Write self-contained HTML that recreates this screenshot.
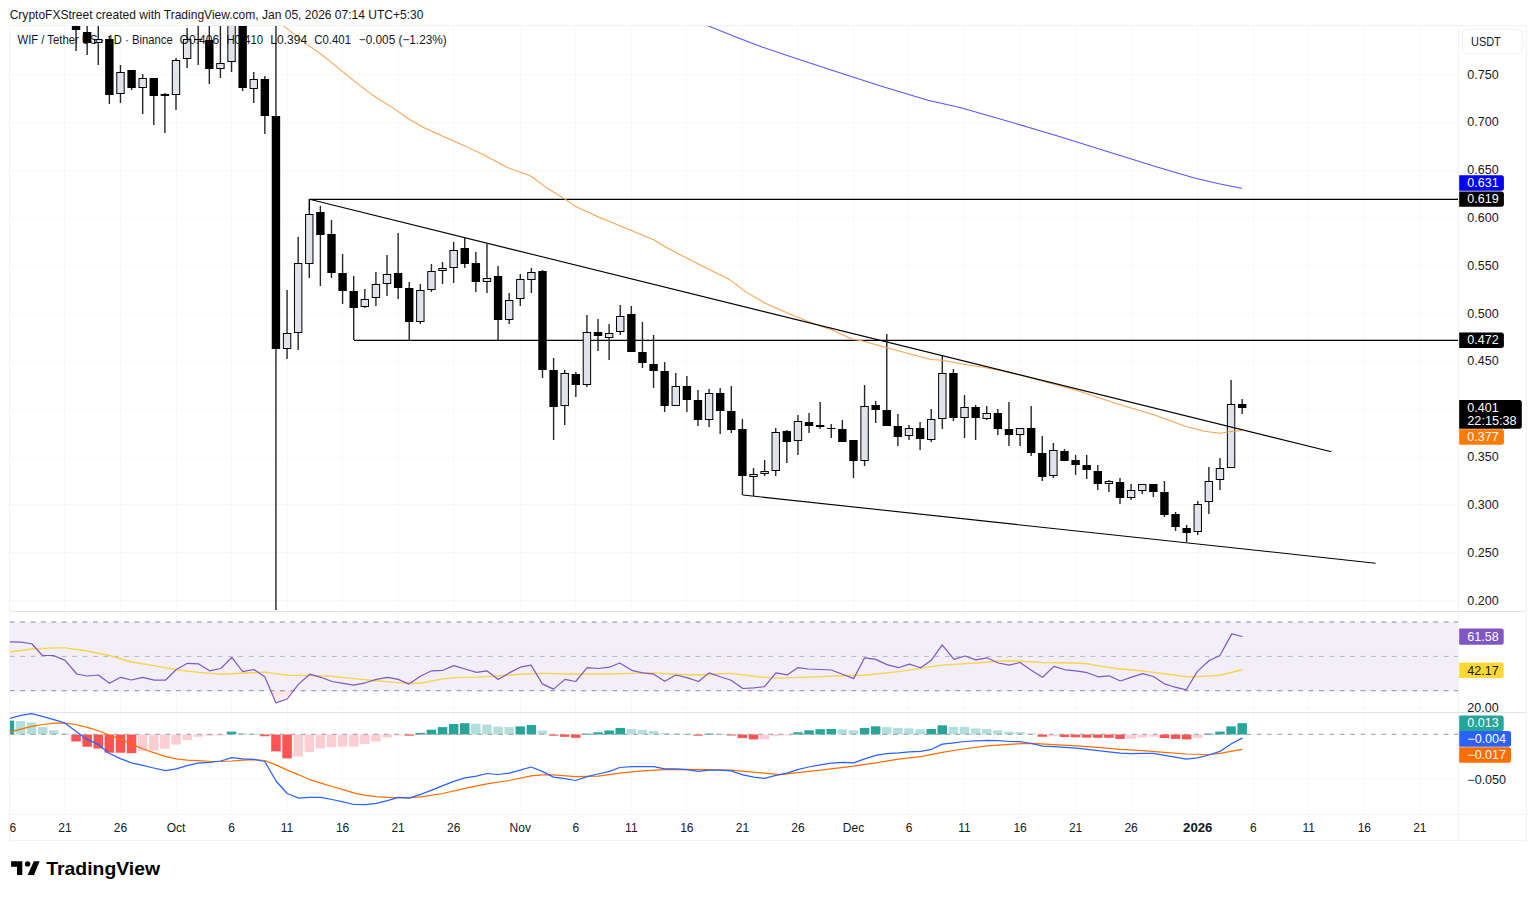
<!DOCTYPE html><html><head><meta charset="utf-8"><style>html,body{margin:0;padding:0;background:#fff;}body{width:1536px;height:897px;overflow:hidden;position:relative;}svg{position:absolute;left:0;top:0;}text{font-family:"Liberation Sans",sans-serif;}</style></head><body>
<svg width="1536" height="897" viewBox="0 0 1536 897">
<defs><clipPath id="cm"><rect x="10" y="26" width="1448" height="585"/></clipPath><clipPath id="cr"><rect x="10" y="612" width="1448" height="100"/></clipPath><clipPath id="cd"><rect x="10" y="713" width="1448" height="101"/></clipPath><clipPath id="ct"><rect x="10" y="815" width="1448" height="25"/></clipPath><linearGradient id="osg" x1="0" y1="0" x2="0" y2="1"><stop offset="0" stop-color="#fcd9dc" stop-opacity="0.9"/><stop offset="1" stop-color="#fdeef0" stop-opacity="0.6"/></linearGradient></defs>
<g stroke="#f8f8f9" stroke-width="1" shape-rendering="crispEdges">
<line x1="64.5" y1="26" x2="64.5" y2="814"/>
<line x1="120.5" y1="26" x2="120.5" y2="814"/>
<line x1="176.5" y1="26" x2="176.5" y2="814"/>
<line x1="231.5" y1="26" x2="231.5" y2="814"/>
<line x1="287.5" y1="26" x2="287.5" y2="814"/>
<line x1="342.5" y1="26" x2="342.5" y2="814"/>
<line x1="398.5" y1="26" x2="398.5" y2="814"/>
<line x1="453.5" y1="26" x2="453.5" y2="814"/>
<line x1="520.5" y1="26" x2="520.5" y2="814"/>
<line x1="575.5" y1="26" x2="575.5" y2="814"/>
<line x1="631.5" y1="26" x2="631.5" y2="814"/>
<line x1="686.5" y1="26" x2="686.5" y2="814"/>
<line x1="742.5" y1="26" x2="742.5" y2="814"/>
<line x1="797.5" y1="26" x2="797.5" y2="814"/>
<line x1="853.5" y1="26" x2="853.5" y2="814"/>
<line x1="908.5" y1="26" x2="908.5" y2="814"/>
<line x1="964.5" y1="26" x2="964.5" y2="814"/>
<line x1="1020.5" y1="26" x2="1020.5" y2="814"/>
<line x1="1075.5" y1="26" x2="1075.5" y2="814"/>
<line x1="1131.5" y1="26" x2="1131.5" y2="814"/>
<line x1="1197.5" y1="26" x2="1197.5" y2="814"/>
<line x1="1253.5" y1="26" x2="1253.5" y2="814"/>
<line x1="1308.5" y1="26" x2="1308.5" y2="814"/>
<line x1="1364.5" y1="26" x2="1364.5" y2="814"/>
<line x1="1419.5" y1="26" x2="1419.5" y2="814"/>
<line x1="10" y1="74.5" x2="1458" y2="74.5"/>
<line x1="10" y1="122.5" x2="1458" y2="122.5"/>
<line x1="10" y1="170.5" x2="1458" y2="170.5"/>
<line x1="10" y1="217.5" x2="1458" y2="217.5"/>
<line x1="10" y1="265.5" x2="1458" y2="265.5"/>
<line x1="10" y1="313.5" x2="1458" y2="313.5"/>
<line x1="10" y1="361.5" x2="1458" y2="361.5"/>
<line x1="10" y1="409.5" x2="1458" y2="409.5"/>
<line x1="10" y1="457.5" x2="1458" y2="457.5"/>
<line x1="10" y1="504.5" x2="1458" y2="504.5"/>
<line x1="10" y1="552.5" x2="1458" y2="552.5"/>
<line x1="10" y1="600.5" x2="1458" y2="600.5"/>
<line x1="10" y1="639.5" x2="1458" y2="639.5"/>
<line x1="10" y1="673.5" x2="1458" y2="673.5"/>
<line x1="10" y1="708.5" x2="1458" y2="708.5"/>
<line x1="10" y1="778.5" x2="1458" y2="778.5"/>
</g>
<g stroke="#f2f2f4" stroke-width="1" shape-rendering="crispEdges" fill="none">
<rect x="9.5" y="25.5" width="1517" height="814.5"/>
<line x1="1458.5" y1="26" x2="1458.5" y2="840"/>
</g>
<g stroke="#e0e3eb" stroke-width="1" shape-rendering="crispEdges">
<line x1="10" y1="611.5" x2="1526" y2="611.5"/>
<line x1="10" y1="712.5" x2="1526" y2="712.5"/>
</g>
<g stroke="#f3f3f5" stroke-width="1" shape-rendering="crispEdges">
<line x1="10" y1="814.5" x2="1526" y2="814.5"/>
</g>
<g clip-path="url(#cm)">
<g stroke="#000" stroke-width="1.1" fill="none">
<line x1="309.5" y1="199.4" x2="1458.5" y2="199.4"/>
<line x1="354" y1="340.4" x2="1458.5" y2="340.4"/>
</g>
<g>
<rect x="75.35" y="25" width="1.4" height="26" fill="#262626" shape-rendering="auto"/>
<rect x="71.85" y="26" width="8.4" height="4" fill="#000"/>
<rect x="86.45" y="25" width="1.4" height="30" fill="#262626" shape-rendering="auto"/>
<rect x="82.95" y="32" width="8.4" height="11" fill="#000"/>
<rect x="97.56" y="25" width="1.4" height="40" fill="#262626" shape-rendering="auto"/>
<rect x="94.06" y="39" width="8.4" height="4" fill="#000"/>
<rect x="95.06" y="40" width="6.4" height="2" fill="#e1e3ea"/>
<rect x="108.66" y="36" width="1.4" height="68" fill="#262626" shape-rendering="auto"/>
<rect x="105.16" y="39" width="8.4" height="56" fill="#000"/>
<rect x="119.77" y="65" width="1.4" height="38" fill="#262626" shape-rendering="auto"/>
<rect x="116.27" y="72" width="8.4" height="22" fill="#000"/>
<rect x="117.27" y="73" width="6.4" height="20" fill="#e1e3ea"/>
<rect x="130.88" y="70" width="1.4" height="20" fill="#262626" shape-rendering="auto"/>
<rect x="127.38" y="70" width="8.4" height="18" fill="#000"/>
<rect x="141.98" y="74" width="1.4" height="40" fill="#262626" shape-rendering="auto"/>
<rect x="138.48" y="78" width="8.4" height="10" fill="#000"/>
<rect x="139.48" y="79" width="6.4" height="8" fill="#e1e3ea"/>
<rect x="153.09" y="78" width="1.4" height="47" fill="#262626" shape-rendering="auto"/>
<rect x="149.59" y="78" width="8.4" height="18" fill="#000"/>
<rect x="164.19" y="93" width="1.4" height="40" fill="#262626" shape-rendering="auto"/>
<rect x="160.69" y="94" width="8.4" height="2" fill="#000"/>
<rect x="175.3" y="58" width="1.4" height="52" fill="#262626" shape-rendering="auto"/>
<rect x="171.8" y="60" width="8.4" height="35" fill="#000"/>
<rect x="172.8" y="61" width="6.4" height="33" fill="#e1e3ea"/>
<rect x="186.41" y="28" width="1.4" height="40" fill="#262626" shape-rendering="auto"/>
<rect x="182.91" y="39" width="8.4" height="20" fill="#000"/>
<rect x="183.91" y="40" width="6.4" height="18" fill="#e1e3ea"/>
<rect x="197.51" y="25" width="1.4" height="40" fill="#262626" shape-rendering="auto"/>
<rect x="194.01" y="39" width="8.4" height="1" fill="#000"/>
<rect x="208.62" y="25" width="1.4" height="59" fill="#262626" shape-rendering="auto"/>
<rect x="205.12" y="40" width="8.4" height="29" fill="#000"/>
<rect x="219.72" y="25" width="1.4" height="53" fill="#262626" shape-rendering="auto"/>
<rect x="216.22" y="63" width="8.4" height="6" fill="#000"/>
<rect x="217.22" y="64" width="6.4" height="4" fill="#e1e3ea"/>
<rect x="230.83" y="25" width="1.4" height="47" fill="#262626" shape-rendering="auto"/>
<rect x="227.33" y="25" width="8.4" height="37" fill="#000"/>
<rect x="228.33" y="26" width="6.4" height="35" fill="#e1e3ea"/>
<rect x="241.94" y="25" width="1.4" height="66" fill="#262626" shape-rendering="auto"/>
<rect x="238.44" y="25" width="8.4" height="63" fill="#000"/>
<rect x="253.04" y="72" width="1.4" height="31" fill="#262626" shape-rendering="auto"/>
<rect x="249.54" y="79" width="8.4" height="10" fill="#000"/>
<rect x="250.54" y="80" width="6.4" height="8" fill="#e1e3ea"/>
<rect x="264.15" y="76" width="1.4" height="58" fill="#262626" shape-rendering="auto"/>
<rect x="260.65" y="79" width="8.4" height="37" fill="#000"/>
<rect x="275.25" y="25" width="1.4" height="585" fill="#262626" shape-rendering="auto"/>
<rect x="271.75" y="116" width="8.4" height="233" fill="#000"/>
<rect x="286.36" y="290" width="1.4" height="69" fill="#262626" shape-rendering="auto"/>
<rect x="282.86" y="333" width="8.4" height="16" fill="#000"/>
<rect x="283.86" y="334" width="6.4" height="14" fill="#e1e3ea"/>
<rect x="297.47" y="237" width="1.4" height="113" fill="#262626" shape-rendering="auto"/>
<rect x="293.97" y="263" width="8.4" height="70" fill="#000"/>
<rect x="294.97" y="264" width="6.4" height="68" fill="#e1e3ea"/>
<rect x="308.57" y="199" width="1.4" height="79" fill="#262626" shape-rendering="auto"/>
<rect x="305.07" y="214" width="8.4" height="50" fill="#000"/>
<rect x="306.07" y="215" width="6.4" height="48" fill="#e1e3ea"/>
<rect x="319.68" y="206" width="1.4" height="80" fill="#262626" shape-rendering="auto"/>
<rect x="316.18" y="212" width="8.4" height="23" fill="#000"/>
<rect x="330.78" y="220" width="1.4" height="58" fill="#262626" shape-rendering="auto"/>
<rect x="327.28" y="234" width="8.4" height="39" fill="#000"/>
<rect x="341.89" y="254" width="1.4" height="50" fill="#262626" shape-rendering="auto"/>
<rect x="338.39" y="273" width="8.4" height="18" fill="#000"/>
<rect x="353" y="276" width="1.4" height="64" fill="#262626" shape-rendering="auto"/>
<rect x="349.5" y="291" width="8.4" height="17" fill="#000"/>
<rect x="364.1" y="289" width="1.4" height="19" fill="#262626" shape-rendering="auto"/>
<rect x="360.6" y="299" width="8.4" height="8" fill="#000"/>
<rect x="361.6" y="300" width="6.4" height="6" fill="#e1e3ea"/>
<rect x="375.21" y="272" width="1.4" height="34" fill="#262626" shape-rendering="auto"/>
<rect x="371.71" y="284" width="8.4" height="14" fill="#000"/>
<rect x="372.71" y="285" width="6.4" height="12" fill="#e1e3ea"/>
<rect x="386.31" y="255" width="1.4" height="41" fill="#262626" shape-rendering="auto"/>
<rect x="382.81" y="274" width="8.4" height="10" fill="#000"/>
<rect x="383.81" y="275" width="6.4" height="8" fill="#e1e3ea"/>
<rect x="397.42" y="233" width="1.4" height="66" fill="#262626" shape-rendering="auto"/>
<rect x="393.92" y="273" width="8.4" height="15" fill="#000"/>
<rect x="408.53" y="282" width="1.4" height="58" fill="#262626" shape-rendering="auto"/>
<rect x="405.03" y="288" width="8.4" height="34" fill="#000"/>
<rect x="419.63" y="284" width="1.4" height="40" fill="#262626" shape-rendering="auto"/>
<rect x="416.13" y="290" width="8.4" height="32" fill="#000"/>
<rect x="417.13" y="291" width="6.4" height="30" fill="#e1e3ea"/>
<rect x="430.74" y="264" width="1.4" height="28" fill="#262626" shape-rendering="auto"/>
<rect x="427.24" y="271" width="8.4" height="19" fill="#000"/>
<rect x="428.24" y="272" width="6.4" height="17" fill="#e1e3ea"/>
<rect x="441.84" y="262" width="1.4" height="22" fill="#262626" shape-rendering="auto"/>
<rect x="438.34" y="268" width="8.4" height="3" fill="#000"/>
<rect x="439.34" y="269" width="6.4" height="1" fill="#e1e3ea"/>
<rect x="452.95" y="242" width="1.4" height="41" fill="#262626" shape-rendering="auto"/>
<rect x="449.45" y="250" width="8.4" height="18" fill="#000"/>
<rect x="450.45" y="251" width="6.4" height="16" fill="#e1e3ea"/>
<rect x="464.06" y="238" width="1.4" height="30" fill="#262626" shape-rendering="auto"/>
<rect x="460.56" y="248" width="8.4" height="16" fill="#000"/>
<rect x="475.16" y="252" width="1.4" height="40" fill="#262626" shape-rendering="auto"/>
<rect x="471.66" y="263" width="8.4" height="19" fill="#000"/>
<rect x="486.27" y="244" width="1.4" height="49" fill="#262626" shape-rendering="auto"/>
<rect x="482.77" y="278" width="8.4" height="4" fill="#000"/>
<rect x="483.77" y="279" width="6.4" height="2" fill="#e1e3ea"/>
<rect x="497.37" y="266" width="1.4" height="74" fill="#262626" shape-rendering="auto"/>
<rect x="493.87" y="276" width="8.4" height="44" fill="#000"/>
<rect x="508.48" y="293" width="1.4" height="31" fill="#262626" shape-rendering="auto"/>
<rect x="504.98" y="300" width="8.4" height="20" fill="#000"/>
<rect x="505.98" y="301" width="6.4" height="18" fill="#e1e3ea"/>
<rect x="519.59" y="274" width="1.4" height="32" fill="#262626" shape-rendering="auto"/>
<rect x="516.09" y="279" width="8.4" height="20" fill="#000"/>
<rect x="517.09" y="280" width="6.4" height="18" fill="#e1e3ea"/>
<rect x="530.69" y="268" width="1.4" height="25" fill="#262626" shape-rendering="auto"/>
<rect x="527.19" y="272" width="8.4" height="8" fill="#000"/>
<rect x="528.19" y="273" width="6.4" height="6" fill="#e1e3ea"/>
<rect x="541.8" y="270" width="1.4" height="108" fill="#262626" shape-rendering="auto"/>
<rect x="538.3" y="271" width="8.4" height="99" fill="#000"/>
<rect x="552.9" y="358" width="1.4" height="82" fill="#262626" shape-rendering="auto"/>
<rect x="549.4" y="370" width="8.4" height="37" fill="#000"/>
<rect x="564.01" y="370" width="1.4" height="55" fill="#262626" shape-rendering="auto"/>
<rect x="560.51" y="373" width="8.4" height="33" fill="#000"/>
<rect x="561.51" y="374" width="6.4" height="31" fill="#e1e3ea"/>
<rect x="575.12" y="372" width="1.4" height="25" fill="#262626" shape-rendering="auto"/>
<rect x="571.62" y="374" width="8.4" height="11" fill="#000"/>
<rect x="586.22" y="315" width="1.4" height="72" fill="#262626" shape-rendering="auto"/>
<rect x="582.72" y="332" width="8.4" height="53" fill="#000"/>
<rect x="583.72" y="333" width="6.4" height="51" fill="#e1e3ea"/>
<rect x="597.33" y="319" width="1.4" height="32" fill="#262626" shape-rendering="auto"/>
<rect x="593.83" y="332" width="8.4" height="4" fill="#000"/>
<rect x="608.43" y="324" width="1.4" height="36" fill="#262626" shape-rendering="auto"/>
<rect x="604.93" y="333" width="8.4" height="5" fill="#000"/>
<rect x="605.93" y="334" width="6.4" height="3" fill="#e1e3ea"/>
<rect x="619.54" y="305" width="1.4" height="30" fill="#262626" shape-rendering="auto"/>
<rect x="616.04" y="316" width="8.4" height="16" fill="#000"/>
<rect x="617.04" y="317" width="6.4" height="14" fill="#e1e3ea"/>
<rect x="630.65" y="306" width="1.4" height="46" fill="#262626" shape-rendering="auto"/>
<rect x="627.15" y="314" width="8.4" height="38" fill="#000"/>
<rect x="641.75" y="322" width="1.4" height="46" fill="#262626" shape-rendering="auto"/>
<rect x="638.25" y="352" width="8.4" height="11" fill="#000"/>
<rect x="652.86" y="335" width="1.4" height="53" fill="#262626" shape-rendering="auto"/>
<rect x="649.36" y="364" width="8.4" height="7" fill="#000"/>
<rect x="663.96" y="362" width="1.4" height="50" fill="#262626" shape-rendering="auto"/>
<rect x="660.46" y="371" width="8.4" height="35" fill="#000"/>
<rect x="675.07" y="373" width="1.4" height="33" fill="#262626" shape-rendering="auto"/>
<rect x="671.57" y="386" width="8.4" height="20" fill="#000"/>
<rect x="672.57" y="387" width="6.4" height="18" fill="#e1e3ea"/>
<rect x="686.18" y="376" width="1.4" height="36" fill="#262626" shape-rendering="auto"/>
<rect x="682.68" y="386" width="8.4" height="14" fill="#000"/>
<rect x="697.28" y="390" width="1.4" height="36" fill="#262626" shape-rendering="auto"/>
<rect x="693.78" y="400" width="8.4" height="20" fill="#000"/>
<rect x="708.39" y="389" width="1.4" height="38" fill="#262626" shape-rendering="auto"/>
<rect x="704.89" y="393" width="8.4" height="27" fill="#000"/>
<rect x="705.89" y="394" width="6.4" height="25" fill="#e1e3ea"/>
<rect x="719.49" y="388" width="1.4" height="46" fill="#262626" shape-rendering="auto"/>
<rect x="715.99" y="393" width="8.4" height="18" fill="#000"/>
<rect x="730.6" y="386" width="1.4" height="47" fill="#262626" shape-rendering="auto"/>
<rect x="727.1" y="411" width="8.4" height="19" fill="#000"/>
<rect x="741.71" y="419" width="1.4" height="76" fill="#262626" shape-rendering="auto"/>
<rect x="738.21" y="429" width="8.4" height="47" fill="#000"/>
<rect x="752.81" y="468" width="1.4" height="28" fill="#262626" shape-rendering="auto"/>
<rect x="749.31" y="474" width="8.4" height="3" fill="#000"/>
<rect x="750.31" y="475" width="6.4" height="1" fill="#e1e3ea"/>
<rect x="763.92" y="460" width="1.4" height="16" fill="#262626" shape-rendering="auto"/>
<rect x="760.42" y="471" width="8.4" height="3" fill="#000"/>
<rect x="761.42" y="472" width="6.4" height="1" fill="#e1e3ea"/>
<rect x="775.02" y="428" width="1.4" height="48" fill="#262626" shape-rendering="auto"/>
<rect x="771.52" y="432" width="8.4" height="39" fill="#000"/>
<rect x="772.52" y="433" width="6.4" height="37" fill="#e1e3ea"/>
<rect x="786.13" y="430" width="1.4" height="33" fill="#262626" shape-rendering="auto"/>
<rect x="782.63" y="431" width="8.4" height="11" fill="#000"/>
<rect x="797.24" y="415" width="1.4" height="40" fill="#262626" shape-rendering="auto"/>
<rect x="793.74" y="421" width="8.4" height="20" fill="#000"/>
<rect x="794.74" y="422" width="6.4" height="18" fill="#e1e3ea"/>
<rect x="808.34" y="413" width="1.4" height="20" fill="#262626" shape-rendering="auto"/>
<rect x="804.84" y="422" width="8.4" height="4" fill="#000"/>
<rect x="819.45" y="402" width="1.4" height="27" fill="#262626" shape-rendering="auto"/>
<rect x="815.95" y="425" width="8.4" height="2" fill="#000"/>
<rect x="830.55" y="424" width="1.4" height="14" fill="#262626" shape-rendering="auto"/>
<rect x="827.05" y="428" width="8.4" height="1" fill="#000"/>
<rect x="841.66" y="420" width="1.4" height="22" fill="#262626" shape-rendering="auto"/>
<rect x="838.16" y="429" width="8.4" height="13" fill="#000"/>
<rect x="852.77" y="440" width="1.4" height="38" fill="#262626" shape-rendering="auto"/>
<rect x="849.27" y="440" width="8.4" height="21" fill="#000"/>
<rect x="863.87" y="385" width="1.4" height="81" fill="#262626" shape-rendering="auto"/>
<rect x="860.37" y="406" width="8.4" height="55" fill="#000"/>
<rect x="861.37" y="407" width="6.4" height="53" fill="#e1e3ea"/>
<rect x="874.98" y="401" width="1.4" height="22" fill="#262626" shape-rendering="auto"/>
<rect x="871.48" y="405" width="8.4" height="5" fill="#000"/>
<rect x="886.08" y="334" width="1.4" height="92" fill="#262626" shape-rendering="auto"/>
<rect x="882.58" y="410" width="8.4" height="16" fill="#000"/>
<rect x="897.19" y="414" width="1.4" height="32" fill="#262626" shape-rendering="auto"/>
<rect x="893.69" y="426" width="8.4" height="11" fill="#000"/>
<rect x="908.3" y="425" width="1.4" height="15" fill="#262626" shape-rendering="auto"/>
<rect x="904.8" y="428" width="8.4" height="8" fill="#000"/>
<rect x="905.8" y="429" width="6.4" height="6" fill="#e1e3ea"/>
<rect x="919.4" y="422" width="1.4" height="28" fill="#262626" shape-rendering="auto"/>
<rect x="915.9" y="428" width="8.4" height="11" fill="#000"/>
<rect x="930.51" y="409" width="1.4" height="33" fill="#262626" shape-rendering="auto"/>
<rect x="927.01" y="419" width="8.4" height="21" fill="#000"/>
<rect x="928.01" y="420" width="6.4" height="19" fill="#e1e3ea"/>
<rect x="941.61" y="356" width="1.4" height="73" fill="#262626" shape-rendering="auto"/>
<rect x="938.11" y="373" width="8.4" height="46" fill="#000"/>
<rect x="939.11" y="374" width="6.4" height="44" fill="#e1e3ea"/>
<rect x="952.72" y="369" width="1.4" height="52" fill="#262626" shape-rendering="auto"/>
<rect x="949.22" y="373" width="8.4" height="45" fill="#000"/>
<rect x="963.83" y="395" width="1.4" height="43" fill="#262626" shape-rendering="auto"/>
<rect x="960.33" y="407" width="8.4" height="11" fill="#000"/>
<rect x="961.33" y="408" width="6.4" height="9" fill="#e1e3ea"/>
<rect x="974.93" y="405" width="1.4" height="35" fill="#262626" shape-rendering="auto"/>
<rect x="971.43" y="407" width="8.4" height="11" fill="#000"/>
<rect x="986.04" y="406" width="1.4" height="14" fill="#262626" shape-rendering="auto"/>
<rect x="982.54" y="413" width="8.4" height="6" fill="#000"/>
<rect x="983.54" y="414" width="6.4" height="4" fill="#e1e3ea"/>
<rect x="997.14" y="409" width="1.4" height="26" fill="#262626" shape-rendering="auto"/>
<rect x="993.64" y="413" width="8.4" height="16" fill="#000"/>
<rect x="1008.25" y="402" width="1.4" height="44" fill="#262626" shape-rendering="auto"/>
<rect x="1004.75" y="429" width="8.4" height="6" fill="#000"/>
<rect x="1019.36" y="428" width="1.4" height="18" fill="#262626" shape-rendering="auto"/>
<rect x="1015.86" y="428" width="8.4" height="7" fill="#000"/>
<rect x="1016.86" y="429" width="6.4" height="5" fill="#e1e3ea"/>
<rect x="1030.46" y="406" width="1.4" height="50" fill="#262626" shape-rendering="auto"/>
<rect x="1026.96" y="428" width="8.4" height="25" fill="#000"/>
<rect x="1041.57" y="436" width="1.4" height="45" fill="#262626" shape-rendering="auto"/>
<rect x="1038.07" y="453" width="8.4" height="24" fill="#000"/>
<rect x="1052.67" y="443" width="1.4" height="35" fill="#262626" shape-rendering="auto"/>
<rect x="1049.17" y="450" width="8.4" height="26" fill="#000"/>
<rect x="1050.17" y="451" width="6.4" height="24" fill="#e1e3ea"/>
<rect x="1063.78" y="449" width="1.4" height="12" fill="#262626" shape-rendering="auto"/>
<rect x="1060.28" y="451" width="8.4" height="10" fill="#000"/>
<rect x="1074.89" y="455" width="1.4" height="20" fill="#262626" shape-rendering="auto"/>
<rect x="1071.39" y="460" width="8.4" height="5" fill="#000"/>
<rect x="1085.99" y="455" width="1.4" height="24" fill="#262626" shape-rendering="auto"/>
<rect x="1082.49" y="465" width="8.4" height="5" fill="#000"/>
<rect x="1097.1" y="465" width="1.4" height="25" fill="#262626" shape-rendering="auto"/>
<rect x="1093.6" y="471" width="8.4" height="13" fill="#000"/>
<rect x="1108.2" y="480" width="1.4" height="12" fill="#262626" shape-rendering="auto"/>
<rect x="1104.7" y="481" width="8.4" height="3" fill="#000"/>
<rect x="1105.7" y="482" width="6.4" height="1" fill="#e1e3ea"/>
<rect x="1119.31" y="478" width="1.4" height="26" fill="#262626" shape-rendering="auto"/>
<rect x="1115.81" y="482" width="8.4" height="16" fill="#000"/>
<rect x="1130.42" y="484" width="1.4" height="16" fill="#262626" shape-rendering="auto"/>
<rect x="1126.92" y="490" width="8.4" height="8" fill="#000"/>
<rect x="1127.92" y="491" width="6.4" height="6" fill="#e1e3ea"/>
<rect x="1141.52" y="484" width="1.4" height="10" fill="#262626" shape-rendering="auto"/>
<rect x="1138.02" y="484" width="8.4" height="7" fill="#000"/>
<rect x="1139.02" y="485" width="6.4" height="5" fill="#e1e3ea"/>
<rect x="1152.63" y="484" width="1.4" height="13" fill="#262626" shape-rendering="auto"/>
<rect x="1149.13" y="484" width="8.4" height="8" fill="#000"/>
<rect x="1163.73" y="481" width="1.4" height="36" fill="#262626" shape-rendering="auto"/>
<rect x="1160.23" y="492" width="8.4" height="23" fill="#000"/>
<rect x="1174.84" y="512" width="1.4" height="19" fill="#262626" shape-rendering="auto"/>
<rect x="1171.34" y="514" width="8.4" height="13" fill="#000"/>
<rect x="1185.95" y="525" width="1.4" height="17" fill="#262626" shape-rendering="auto"/>
<rect x="1182.45" y="528" width="8.4" height="5" fill="#000"/>
<rect x="1197.05" y="501" width="1.4" height="34" fill="#262626" shape-rendering="auto"/>
<rect x="1193.55" y="504" width="8.4" height="28" fill="#000"/>
<rect x="1194.55" y="505" width="6.4" height="26" fill="#e1e3ea"/>
<rect x="1208.16" y="467" width="1.4" height="47" fill="#262626" shape-rendering="auto"/>
<rect x="1204.66" y="481" width="8.4" height="21" fill="#000"/>
<rect x="1205.66" y="482" width="6.4" height="19" fill="#e1e3ea"/>
<rect x="1219.26" y="458" width="1.4" height="32" fill="#262626" shape-rendering="auto"/>
<rect x="1215.76" y="468" width="8.4" height="12" fill="#000"/>
<rect x="1216.76" y="469" width="6.4" height="10" fill="#e1e3ea"/>
<rect x="1230.37" y="380" width="1.4" height="88" fill="#262626" shape-rendering="auto"/>
<rect x="1226.87" y="404" width="8.4" height="64" fill="#000"/>
<rect x="1227.87" y="405" width="6.4" height="62" fill="#e1e3ea"/>
<rect x="1241.48" y="399" width="1.4" height="15" fill="#262626" shape-rendering="auto"/>
<rect x="1237.98" y="404" width="8.4" height="4" fill="#000"/>
</g>
<polyline fill="none" stroke="#f9a24f" stroke-width="1.05" stroke-linejoin="round" stroke-linecap="round"  points="283.2,25.7 284,26.2 306.7,44.1 324.6,56.8 342.4,71.3 355.8,82.4 373.6,95.8 391.4,106.9 409.3,119.2 422.6,127 442.7,136.3 465,145.9 485,155.5 507.3,167.5 530.7,176 547.4,188.3 565.3,199.4 575.6,206.6 599.1,217.3 620.5,226.1 653.75,239.8 665.5,247 698.7,264.2 729.9,279.8 745.5,291.6 765.1,303.3 794.4,316 813.9,323.8 833.4,330.6 853,339.4 860.8,340.4 886.9,347.7 930.6,359.4 942.1,360.2 965,364.6 983.4,367.3 1000,370.6 1018.6,374.8 1042,381 1077.2,390.4 1116.2,403.5 1155.3,415.2 1184.6,425.9 1204.1,431.2 1219.8,433.2 1229.5,431.8 1241.3,430.4"/>
<polyline fill="none" stroke="#5557f2" stroke-width="1.05" stroke-linejoin="round" stroke-linecap="round"  points="707.3,25.5 736.5,37.3 762,47 798.4,59.2 845.8,74.7 882.3,86.5 927.9,100.2 960,107.4 1008.8,121.5 1057.7,136.1 1106.5,151.2 1155.3,166.4 1194.4,178.1 1217.8,183.6 1241.6,188.3"/>
<g stroke="#000" stroke-width="1.1" fill="none">
<line x1="309.5" y1="199.3" x2="1331.3" y2="451.8"/>
<line x1="742.7" y1="495" x2="1375.6" y2="563.2"/>
<line x1="309.5" y1="199.3" x2="309.5" y2="210"/>
</g>
</g>
<text x="17.5" y="44.3" font-size="12.2" fill="#131722" textLength="155.2" lengthAdjust="spacingAndGlyphs">WIF / Tether US · 1D · Binance</text>
<text x="179.5" y="44.3" font-size="12.2" fill="#131722" textLength="39.7" lengthAdjust="spacingAndGlyphs">O0.406</text>
<text x="226.4" y="44.3" font-size="12.2" fill="#131722" textLength="36.7" lengthAdjust="spacingAndGlyphs">H0.410</text>
<text x="270.3" y="44.3" font-size="12.2" fill="#131722" textLength="36.8" lengthAdjust="spacingAndGlyphs">L0.394</text>
<text x="314.3" y="44.3" font-size="12.2" fill="#131722" textLength="36.7" lengthAdjust="spacingAndGlyphs">C0.401</text>
<text x="358.8" y="44.3" font-size="12.2" fill="#131722" textLength="87.9" lengthAdjust="spacingAndGlyphs">−0.005 (−1.23%)</text>
<g clip-path="url(#cr)">
<rect x="10" y="622" width="1448.5" height="69" fill="#f2eff9"/>
<path d="M270.8,690.8 L276,702.9 L287.2,699 L293.4,690.8 Z" fill="url(#osg)"/>
<g stroke-width="1" fill="none">
<line x1="9.85" y1="622" x2="1458.5" y2="622" stroke="#8a8d96" stroke-width="1.1" stroke-dasharray="4.8,5.59"/>
<line x1="9.85" y1="656.4" x2="1458.5" y2="656.4" stroke="#b4b6bd" stroke-dasharray="4.8,5.59"/>
<line x1="9.85" y1="690.8" x2="1458.5" y2="690.8" stroke="#8a8d96" stroke-width="1.1" stroke-dasharray="4.8,5.59"/>
</g>
<polyline fill="none" stroke="#fad34f" stroke-width="1.4" stroke-linejoin="round" stroke-linecap="round"  points="9.6,652 31.8,649 53.4,647.9 65.1,647.9 87.2,651 109.4,655.5 131.5,662 154.2,665.6 176.3,669.8 198.4,672.4 220.8,674.2 242.7,673.2 264.8,672.1 287.2,675.3 309.9,675.5 332,676.3 353.6,678.6 376.3,680.7 398.4,682.6 409,683.3 420.7,683.3 442.9,678.9 453.8,677.6 476.5,677.1 498.1,676 520.2,674.2 542.3,673.4 565,674 587.1,674 609.5,674 631.7,673.4 653.8,672.9 675.9,674.2 698.6,675 720.2,673.7 731.1,673.4 753.8,676.3 775.9,678.1 808.6,677.1 842.5,675.8 864.6,675.3 898.5,671.6 920.6,668.2 942.2,665.1 975.8,663 998.2,661.2 1009.2,660.7 1042.5,662.5 1076.1,663 1087.3,663.8 1098.2,665.9 1120.4,669 1136,670.3 1153.7,672.4 1164.6,673.7 1186.3,676.8 1197.2,676.6 1208.9,676 1219.9,675.3 1242,669.8"/>
<polyline fill="none" stroke="#7e57c2" stroke-width="1.2" stroke-linejoin="round" stroke-linecap="round"  points="9.6,641.9 20.8,642.2 31.8,643.75 42.4,655.5 53.4,655.5 65.1,660.4 76.8,674 87.2,676 98.4,675 109.4,683.3 120.6,677.3 131.5,680 142.7,677.3 154.2,680.2 165.4,680.2 176.3,669.5 187.5,663.3 198.4,663.8 209.6,670.8 220.8,668.5 231.8,657.3 242.7,671.6 253.9,669.5 264.8,676.8 276,702.9 287.2,699 298.7,683.9 309.9,674.2 320.8,677.3 332,681.5 343.2,683.3 353.6,685.2 365.4,682.8 376.3,679.4 387.5,677.3 398.3,679.4 409,684.1 420.7,676 431.7,670.8 442.9,670.3 453.8,665.6 465,669 476.5,672.4 486.9,670.8 498.1,679.4 509.3,672.9 520.2,667.2 531.1,665.1 542.3,683.9 553.5,689.1 565,679.4 575.7,681.5 587.1,667.7 598.3,668.5 609.5,667.2 619.7,663 631.7,670.3 642.6,672.9 653.8,674.2 664.7,681.25 675.9,675 686.9,677.6 698.6,681.5 709,672.9 720.2,676.8 731.1,680.2 742.9,688.5 753.8,687.8 764.5,686.7 775.9,672.9 787.1,674.9 797.7,667.7 808.6,669 820.4,669.5 831.3,670 842.5,674.2 853.7,678.6 864.6,657.8 875.8,659.4 886.8,664.6 898.5,667.7 909.4,664.1 920.6,667.7 931.6,659.9 942.2,644.8 954,659.4 964.9,656 975.8,659.9 987,657.8 998.2,663 1009.2,665.1 1020.1,662.5 1031.3,670.3 1042.5,677.3 1054,666.4 1065.2,669.8 1076.1,670.8 1087.3,672.7 1098.2,676.8 1108.9,675.8 1120.4,681 1131.6,677.1 1142.8,673.6 1153.3,676.5 1164.7,683.9 1175.1,687.2 1186.3,689.8 1197.2,671.6 1208.9,660.7 1219.9,655.5 1231.8,633.9 1242,636.5"/>
</g>
<g clip-path="url(#cd)">
<g>
<rect x="4.66" y="720.6" width="9.5" height="13.9" fill="#26a69a"/>
<rect x="15.77" y="721.1" width="9.5" height="13.4" fill="#b2dfdb"/>
<rect x="26.87" y="722.4" width="9.5" height="12.1" fill="#b2dfdb"/>
<rect x="37.98" y="727.1" width="9.5" height="7.4" fill="#b2dfdb"/>
<rect x="49.08" y="730.3" width="9.5" height="4.2" fill="#b2dfdb"/>
<rect x="60.19" y="733.6" width="9.5" height="1" fill="#b2dfdb"/>
<rect x="71.3" y="734.5" width="9.5" height="7" fill="#ff5252"/>
<rect x="82.4" y="734.5" width="9.5" height="12.2" fill="#ff5252"/>
<rect x="93.51" y="734.5" width="9.5" height="14" fill="#ff5252"/>
<rect x="104.61" y="734.5" width="9.5" height="18.2" fill="#ff5252"/>
<rect x="115.72" y="734.5" width="9.5" height="18.2" fill="#ff5252"/>
<rect x="126.83" y="734.5" width="9.5" height="18.7" fill="#ff5252"/>
<rect x="137.93" y="734.5" width="9.5" height="16.6" fill="#ffcdd2"/>
<rect x="149.04" y="734.5" width="9.5" height="16.1" fill="#ffcdd2"/>
<rect x="160.14" y="734.5" width="9.5" height="14.25" fill="#ffcdd2"/>
<rect x="171.25" y="734.5" width="9.5" height="10.1" fill="#ffcdd2"/>
<rect x="182.36" y="734.5" width="9.5" height="5.7" fill="#ffcdd2"/>
<rect x="193.46" y="734.5" width="9.5" height="2.3" fill="#ffcdd2"/>
<rect x="204.57" y="734.5" width="9.5" height="1.2" fill="#ffcdd2"/>
<rect x="215.67" y="734.5" width="9.5" height="1" fill="#ffcdd2"/>
<rect x="226.78" y="731.6" width="9.5" height="2.9" fill="#26a69a"/>
<rect x="237.89" y="733.1" width="9.5" height="1.4" fill="#b2dfdb"/>
<rect x="248.99" y="733.6" width="9.5" height="1" fill="#b2dfdb"/>
<rect x="260.1" y="734.5" width="9.5" height="1.75" fill="#ff5252"/>
<rect x="271.2" y="734.5" width="9.5" height="16.9" fill="#ff5252"/>
<rect x="282.31" y="734.5" width="9.5" height="23.9" fill="#ff5252"/>
<rect x="293.42" y="734.5" width="9.5" height="22.1" fill="#ffcdd2"/>
<rect x="304.52" y="734.5" width="9.5" height="17.4" fill="#ffcdd2"/>
<rect x="315.63" y="734.5" width="9.5" height="14" fill="#ffcdd2"/>
<rect x="326.73" y="734.5" width="9.5" height="12.7" fill="#ffcdd2"/>
<rect x="337.84" y="734.5" width="9.5" height="12.2" fill="#ffcdd2"/>
<rect x="348.95" y="734.5" width="9.5" height="12.2" fill="#ffcdd2"/>
<rect x="360.05" y="734.5" width="9.5" height="9.6" fill="#ffcdd2"/>
<rect x="371.16" y="734.5" width="9.5" height="7" fill="#ffcdd2"/>
<rect x="382.26" y="734.5" width="9.5" height="3.1" fill="#ffcdd2"/>
<rect x="393.37" y="734.5" width="9.5" height="1" fill="#ffcdd2"/>
<rect x="404.48" y="734.5" width="9.5" height="1.2" fill="#ff5252"/>
<rect x="415.58" y="732.9" width="9.5" height="1.6" fill="#26a69a"/>
<rect x="426.69" y="729.7" width="9.5" height="4.8" fill="#26a69a"/>
<rect x="437.79" y="727.1" width="9.5" height="7.4" fill="#26a69a"/>
<rect x="448.9" y="724" width="9.5" height="10.5" fill="#26a69a"/>
<rect x="460.01" y="723.2" width="9.5" height="11.3" fill="#26a69a"/>
<rect x="471.11" y="723.75" width="9.5" height="10.75" fill="#b2dfdb"/>
<rect x="482.22" y="724.5" width="9.5" height="10" fill="#b2dfdb"/>
<rect x="493.32" y="726.6" width="9.5" height="7.9" fill="#b2dfdb"/>
<rect x="504.43" y="727.1" width="9.5" height="7.4" fill="#b2dfdb"/>
<rect x="515.54" y="726.4" width="9.5" height="8.1" fill="#26a69a"/>
<rect x="526.64" y="725.05" width="9.5" height="9.45" fill="#26a69a"/>
<rect x="537.75" y="730.5" width="9.5" height="4" fill="#b2dfdb"/>
<rect x="548.85" y="734.5" width="9.5" height="1.2" fill="#ff5252"/>
<rect x="559.96" y="734.5" width="9.5" height="2.3" fill="#ff5252"/>
<rect x="571.07" y="734.5" width="9.5" height="3.3" fill="#ff5252"/>
<rect x="582.17" y="733.6" width="9.5" height="1" fill="#26a69a"/>
<rect x="593.28" y="732.3" width="9.5" height="2.2" fill="#26a69a"/>
<rect x="604.38" y="730.5" width="9.5" height="4" fill="#26a69a"/>
<rect x="615.49" y="727.9" width="9.5" height="6.6" fill="#26a69a"/>
<rect x="626.6" y="729" width="9.5" height="5.5" fill="#b2dfdb"/>
<rect x="637.7" y="729.7" width="9.5" height="4.8" fill="#b2dfdb"/>
<rect x="648.81" y="731" width="9.5" height="3.5" fill="#b2dfdb"/>
<rect x="659.91" y="733.1" width="9.5" height="1.4" fill="#b2dfdb"/>
<rect x="671.02" y="733.4" width="9.5" height="1.1" fill="#b2dfdb"/>
<rect x="682.13" y="733.9" width="9.5" height="1" fill="#b2dfdb"/>
<rect x="693.23" y="734.5" width="9.5" height="1.2" fill="#ff5252"/>
<rect x="704.34" y="733.6" width="9.5" height="1" fill="#26a69a"/>
<rect x="715.44" y="733.9" width="9.5" height="1" fill="#b2dfdb"/>
<rect x="726.55" y="734.5" width="9.5" height="1" fill="#ff5252"/>
<rect x="737.66" y="734.5" width="9.5" height="3.6" fill="#ff5252"/>
<rect x="748.76" y="734.5" width="9.5" height="4.9" fill="#ff5252"/>
<rect x="759.87" y="734.5" width="9.5" height="4.9" fill="#ffcdd2"/>
<rect x="770.97" y="734.5" width="9.5" height="1.75" fill="#ffcdd2"/>
<rect x="782.08" y="734.5" width="9.5" height="1" fill="#ffcdd2"/>
<rect x="793.19" y="732.3" width="9.5" height="2.2" fill="#26a69a"/>
<rect x="804.29" y="730.3" width="9.5" height="4.2" fill="#26a69a"/>
<rect x="815.4" y="729.2" width="9.5" height="5.3" fill="#26a69a"/>
<rect x="826.5" y="729" width="9.5" height="5.5" fill="#26a69a"/>
<rect x="837.61" y="729.2" width="9.5" height="5.3" fill="#b2dfdb"/>
<rect x="848.72" y="730.3" width="9.5" height="4.2" fill="#b2dfdb"/>
<rect x="859.82" y="727.9" width="9.5" height="6.6" fill="#26a69a"/>
<rect x="870.93" y="726.35" width="9.5" height="8.15" fill="#26a69a"/>
<rect x="882.03" y="727.1" width="9.5" height="7.4" fill="#b2dfdb"/>
<rect x="893.14" y="727.9" width="9.5" height="6.6" fill="#b2dfdb"/>
<rect x="904.25" y="728.4" width="9.5" height="6.1" fill="#b2dfdb"/>
<rect x="915.35" y="729.2" width="9.5" height="5.3" fill="#b2dfdb"/>
<rect x="926.46" y="729" width="9.5" height="5.5" fill="#26a69a"/>
<rect x="937.56" y="725.3" width="9.5" height="9.2" fill="#26a69a"/>
<rect x="948.67" y="726.9" width="9.5" height="7.6" fill="#b2dfdb"/>
<rect x="959.78" y="726.9" width="9.5" height="7.6" fill="#b2dfdb"/>
<rect x="970.88" y="728.4" width="9.5" height="6.1" fill="#b2dfdb"/>
<rect x="981.99" y="729" width="9.5" height="5.5" fill="#b2dfdb"/>
<rect x="993.09" y="730.3" width="9.5" height="4.2" fill="#b2dfdb"/>
<rect x="1004.2" y="731.6" width="9.5" height="2.9" fill="#b2dfdb"/>
<rect x="1015.31" y="732.1" width="9.5" height="2.4" fill="#b2dfdb"/>
<rect x="1026.41" y="733.6" width="9.5" height="1" fill="#b2dfdb"/>
<rect x="1037.52" y="734.5" width="9.5" height="2.3" fill="#ff5252"/>
<rect x="1048.62" y="734.5" width="9.5" height="1.75" fill="#ffcdd2"/>
<rect x="1059.73" y="734.5" width="9.5" height="2.5" fill="#ff5252"/>
<rect x="1070.84" y="734.5" width="9.5" height="2.8" fill="#ff5252"/>
<rect x="1081.94" y="734.5" width="9.5" height="3.1" fill="#ff5252"/>
<rect x="1093.05" y="734.5" width="9.5" height="3.3" fill="#ff5252"/>
<rect x="1104.15" y="734.5" width="9.5" height="3.3" fill="#ff5252"/>
<rect x="1115.26" y="734.5" width="9.5" height="4.4" fill="#ff5252"/>
<rect x="1126.37" y="734.5" width="9.5" height="4.4" fill="#ffcdd2"/>
<rect x="1137.47" y="734.5" width="9.5" height="3.1" fill="#ffcdd2"/>
<rect x="1148.58" y="734.5" width="9.5" height="2.3" fill="#ffcdd2"/>
<rect x="1159.68" y="734.5" width="9.5" height="3.6" fill="#ff5252"/>
<rect x="1170.79" y="734.5" width="9.5" height="4.4" fill="#ff5252"/>
<rect x="1181.9" y="734.5" width="9.5" height="4.9" fill="#ff5252"/>
<rect x="1193" y="734.5" width="9.5" height="3.6" fill="#ffcdd2"/>
<rect x="1204.11" y="733.6" width="9.5" height="1" fill="#26a69a"/>
<rect x="1215.21" y="731.6" width="9.5" height="2.9" fill="#26a69a"/>
<rect x="1226.32" y="726.35" width="9.5" height="8.15" fill="#26a69a"/>
<rect x="1237.43" y="723.2" width="9.5" height="11.3" fill="#26a69a"/>
</g>
<line x1="9.85" y1="734.3" x2="1458.5" y2="734.3" stroke="#9a9ca3" stroke-width="1" stroke-dasharray="4.8,5.59"/>
<polyline fill="none" stroke="#ff6d00" stroke-width="1.25" stroke-linejoin="round" stroke-linecap="round"  points="9.6,732.3 20.8,729.2 31.8,726.4 43,724.5 54.7,723.2 65.1,723.2 75.5,724.5 86.5,727.1 97.7,730.5 108.9,735 119.8,738.9 131.5,744.1 142.7,748.75 153.6,752.7 165.4,756.3 176.3,758.9 187,760.2 197.9,760.7 209.6,761.25 220.8,761.5 231.8,761 242.7,760.2 253.9,759.7 264.8,760.5 276,764.9 287.2,770.1 298.7,774.8 309.9,779.7 320.8,783.1 332,786.5 343.2,789.6 353.6,792.8 365.4,795.4 376.3,796.7 387.5,797.4 398,797.6 409,798 420.7,796.9 442.9,793.5 465,788.3 486.9,783.9 509.3,780.5 531.1,775.8 542.3,774.8 553.5,774.8 575.7,776.6 598.3,776.1 619.7,773.2 642.6,770.9 664.7,769.6 686.9,769.3 709,769.6 731.1,770.1 764.5,773.2 780,774.6 797.7,772.7 820.4,770.1 853.7,766.2 875.8,762.8 898.5,759.2 920.6,756.6 942.2,752.4 964.9,748.75 987,745.9 1009.2,744.3 1031.3,743.3 1054,744.6 1076.1,745.9 1098.2,747.4 1120.4,749.3 1142.8,750.7 1164.6,752.4 1186.3,754 1208.9,754.5 1219.9,753.4 1242,749.3"/>
<polyline fill="none" stroke="#2962ff" stroke-width="1.25" stroke-linejoin="round" stroke-linecap="round"  points="9.6,718.5 20.8,715.4 31.8,713.6 43,716.7 54.7,719.8 65.1,723.2 75.5,731 86.5,738.9 97.7,744.1 108.9,753.2 119.8,758.4 131.5,762.8 142.7,765.4 153.6,768 165.4,770.6 176.3,768.8 187,765.7 197.9,763.1 209.6,762.3 220.8,761 231.8,757.6 242.7,758.9 253.9,759.4 264.8,761.5 276,781 287.2,793.5 298.7,798.2 309.9,797.4 320.8,797.4 332,799.5 343.2,801.9 353.6,804.5 365.4,804.7 376.3,803.4 387.5,800.6 398.3,797.4 409,798.2 420.7,794.3 431.7,790.2 442.9,785.7 453.8,781.3 465,777.9 476.5,776.1 486.9,773.5 498.1,774.5 509.3,773.2 520.2,770.1 531.1,767 542.3,771.4 553.5,777.1 565,778.7 575.7,780.5 587.1,776.6 598.3,774 609.5,771.4 619.7,767.5 631.7,766.7 642.6,766.5 653.8,766.7 664.7,768.8 675.9,768.8 686.9,769.6 698.6,771.4 709,770.1 720.2,770.1 731.1,770.9 742.9,774.8 753.8,777.1 764.5,778.4 775.9,775.3 787,773.2 797.7,769.6 808.6,767 820.4,764.9 831.3,763.1 842.5,762.3 853.7,762.8 864.6,758.9 875.8,755.3 886.8,753.7 898.5,752.9 909.4,751.9 920.6,751.4 931.6,749.3 942.2,744.1 954,742.8 964.9,741.5 975.8,740.9 987,740.4 998.2,740.7 1009.2,741.5 1020.1,741.7 1031.3,743.5 1042.5,746.1 1054,746.7 1065.2,747.4 1076.1,748.2 1087.3,749.3 1098.2,750.6 1108.9,751.9 1120.4,753.2 1131.6,753.7 1142.8,753.4 1153.3,753.4 1164.7,755.3 1175.1,757.1 1186.3,759.2 1197.2,757.9 1208.9,755 1219.9,751.4 1231.8,743.5 1242,738.1"/>
</g>
<text x="1467.3" y="78.6" font-size="12" fill="#131722" textLength="31.3" lengthAdjust="spacingAndGlyphs">0.750</text>
<text x="1467.3" y="126.42" font-size="12" fill="#131722" textLength="31.3" lengthAdjust="spacingAndGlyphs">0.700</text>
<text x="1467.3" y="174.23" font-size="12" fill="#131722" textLength="31.3" lengthAdjust="spacingAndGlyphs">0.650</text>
<text x="1467.3" y="222.05" font-size="12" fill="#131722" textLength="31.3" lengthAdjust="spacingAndGlyphs">0.600</text>
<text x="1467.3" y="269.86" font-size="12" fill="#131722" textLength="31.3" lengthAdjust="spacingAndGlyphs">0.550</text>
<text x="1467.3" y="317.68" font-size="12" fill="#131722" textLength="31.3" lengthAdjust="spacingAndGlyphs">0.500</text>
<text x="1467.3" y="365.49" font-size="12" fill="#131722" textLength="31.3" lengthAdjust="spacingAndGlyphs">0.450</text>
<text x="1467.3" y="413.31" font-size="12" fill="#131722" textLength="31.3" lengthAdjust="spacingAndGlyphs">0.400</text>
<text x="1467.3" y="461.12" font-size="12" fill="#131722" textLength="31.3" lengthAdjust="spacingAndGlyphs">0.350</text>
<text x="1467.3" y="508.94" font-size="12" fill="#131722" textLength="31.3" lengthAdjust="spacingAndGlyphs">0.300</text>
<text x="1467.3" y="556.75" font-size="12" fill="#131722" textLength="31.3" lengthAdjust="spacingAndGlyphs">0.250</text>
<text x="1467.3" y="604.57" font-size="12" fill="#131722" textLength="31.3" lengthAdjust="spacingAndGlyphs">0.200</text>
<text x="1467.3" y="712.1" font-size="12" fill="#131722" textLength="31.3" lengthAdjust="spacingAndGlyphs">20.00</text>
<text x="1467.3" y="783.6" font-size="12" fill="#131722" textLength="38.8" lengthAdjust="spacingAndGlyphs">−0.050</text>
<rect x="1462.5" y="29.3" width="59.8" height="24.4" rx="5" fill="#fff" stroke="#f0f0f2" stroke-width="1"/>
<text x="1471" y="45.6" font-size="12" fill="#131722" textLength="29.8" lengthAdjust="spacingAndGlyphs">USDT</text>
<path d="M1459.2,175.2 L1501.4,175.2 Q1503.9,175.2 1503.9,177.7 L1503.9,188.3 Q1503.9,190.8 1501.4,190.8 L1459.2,190.8 Z" fill="#0000ff"/>
<text x="1467.3" y="187.4" font-size="12" fill="#fff" textLength="31.3" lengthAdjust="spacingAndGlyphs">0.631</text>
<path d="M1459.2,191.6 L1501.4,191.6 Q1503.9,191.6 1503.9,194.1 L1503.9,204.3 Q1503.9,206.8 1501.4,206.8 L1459.2,206.8 Z" fill="#000"/>
<text x="1467.3" y="203.4" font-size="12" fill="#fff" textLength="31.3" lengthAdjust="spacingAndGlyphs">0.619</text>
<path d="M1459.2,332.4 L1501.4,332.4 Q1503.9,332.4 1503.9,334.9 L1503.9,345.5 Q1503.9,348 1501.4,348 L1459.2,348 Z" fill="#000"/>
<text x="1467.3" y="344.4" font-size="12" fill="#fff" textLength="31.3" lengthAdjust="spacingAndGlyphs">0.472</text>
<path d="M1459.2,399.9 L1519.3,399.9 Q1521.8,399.9 1521.8,402.4 L1521.8,426.3 Q1521.8,428.8 1519.3,428.8 L1459.2,428.8 Z" fill="#000"/>
<text x="1467.3" y="411.7" font-size="12" fill="#fff" textLength="31.3" lengthAdjust="spacingAndGlyphs">0.401</text>
<text x="1467.3" y="424.9" font-size="12" fill="#fff" textLength="49.3" lengthAdjust="spacingAndGlyphs">22:15:38</text>
<path d="M1459.2,429.2 L1501.4,429.2 Q1503.9,429.2 1503.9,431.7 L1503.9,442.3 Q1503.9,444.8 1501.4,444.8 L1459.2,444.8 Z" fill="#ff7a00"/>
<text x="1467.3" y="441.2" font-size="12" fill="#fff" textLength="31.3" lengthAdjust="spacingAndGlyphs">0.377</text>
<path d="M1459.2,628.6 L1501.2,628.6 Q1503.7,628.6 1503.7,631.1 L1503.7,642.3 Q1503.7,644.8 1501.2,644.8 L1459.2,644.8 Z" fill="#7e57c2"/>
<text x="1467.3" y="640.9" font-size="12" fill="#fff" textLength="31.3" lengthAdjust="spacingAndGlyphs">61.58</text>
<path d="M1459.2,662.5 L1501.2,662.5 Q1503.7,662.5 1503.7,665 L1503.7,675.6 Q1503.7,678.1 1501.2,678.1 L1459.2,678.1 Z" fill="#fdd835"/>
<text x="1467.3" y="674.5" font-size="12" fill="#131722" textLength="31.3" lengthAdjust="spacingAndGlyphs">42.17</text>
<path d="M1459.2,715.4 L1501.2,715.4 Q1503.7,715.4 1503.7,717.9 L1503.7,728.5 Q1503.7,731 1501.2,731 L1459.2,731 Z" fill="#26a69a"/>
<text x="1467.3" y="727.4" font-size="12" fill="#fff" textLength="31.3" lengthAdjust="spacingAndGlyphs">0.013</text>
<path d="M1459.2,731 L1508.5,731 Q1511,731 1511,733.5 L1511,744.2 Q1511,746.7 1508.5,746.7 L1459.2,746.7 Z" fill="#2962ff"/>
<text x="1467.3" y="743" font-size="12" fill="#fff" textLength="38.8" lengthAdjust="spacingAndGlyphs">−0.004</text>
<path d="M1459.2,747.2 L1508.5,747.2 Q1511,747.2 1511,749.7 L1511,760.3 Q1511,762.8 1508.5,762.8 L1459.2,762.8 Z" fill="#ff6d00"/>
<text x="1467.3" y="759" font-size="12" fill="#fff" textLength="38.8" lengthAdjust="spacingAndGlyphs">−0.017</text>
<g clip-path="url(#ct)">
<text x="9.41" y="832" font-size="12" fill="#131722" text-anchor="middle">16</text>
<text x="64.94" y="832" font-size="12" fill="#131722" text-anchor="middle">21</text>
<text x="120.47" y="832" font-size="12" fill="#131722" text-anchor="middle">26</text>
<text x="176" y="832" font-size="12" fill="#131722" text-anchor="middle">Oct</text>
<text x="231.53" y="832" font-size="12" fill="#131722" text-anchor="middle">6</text>
<text x="287.06" y="832" font-size="12" fill="#131722" text-anchor="middle">11</text>
<text x="342.59" y="832" font-size="12" fill="#131722" text-anchor="middle">16</text>
<text x="398.12" y="832" font-size="12" fill="#131722" text-anchor="middle">21</text>
<text x="453.65" y="832" font-size="12" fill="#131722" text-anchor="middle">26</text>
<text x="520.29" y="832" font-size="12" fill="#131722" text-anchor="middle">Nov</text>
<text x="575.82" y="832" font-size="12" fill="#131722" text-anchor="middle">6</text>
<text x="631.35" y="832" font-size="12" fill="#131722" text-anchor="middle">11</text>
<text x="686.88" y="832" font-size="12" fill="#131722" text-anchor="middle">16</text>
<text x="742.41" y="832" font-size="12" fill="#131722" text-anchor="middle">21</text>
<text x="797.94" y="832" font-size="12" fill="#131722" text-anchor="middle">26</text>
<text x="853.47" y="832" font-size="12" fill="#131722" text-anchor="middle">Dec</text>
<text x="909" y="832" font-size="12" fill="#131722" text-anchor="middle">6</text>
<text x="964.53" y="832" font-size="12" fill="#131722" text-anchor="middle">11</text>
<text x="1020.06" y="832" font-size="12" fill="#131722" text-anchor="middle">16</text>
<text x="1075.59" y="832" font-size="12" fill="#131722" text-anchor="middle">21</text>
<text x="1131.12" y="832" font-size="12" fill="#131722" text-anchor="middle">26</text>
<text x="1197.75" y="832" font-size="12" fill="#131722" text-anchor="middle" font-weight="bold" textLength="29.3" lengthAdjust="spacingAndGlyphs">2026</text>
<text x="1253.28" y="832" font-size="12" fill="#131722" text-anchor="middle">6</text>
<text x="1308.81" y="832" font-size="12" fill="#131722" text-anchor="middle">11</text>
<text x="1364.34" y="832" font-size="12" fill="#131722" text-anchor="middle">16</text>
<text x="1419.87" y="832" font-size="12" fill="#131722" text-anchor="middle">21</text>
</g>
<text x="9.7" y="19" font-size="12.2" fill="#131722" textLength="413.7" lengthAdjust="spacingAndGlyphs">CryptoFXStreet created with TradingView.com, Jan 05, 2026 07:14 UTC+5:30</text>
<g fill="#000">
<path d="M11.1,861.2 H22.3 V874.9 H17 V866.7 H11.1 Z"/>
<circle cx="27.6" cy="863.9" r="2.7"/>
<path d="M33.9,861.2 H39.6 L34,874.9 H27.6 Z"/>
</g>
<text x="46.3" y="874.9" font-size="19" font-weight="bold" fill="#000" textLength="113.7" lengthAdjust="spacingAndGlyphs">TradingView</text>
</svg></body></html>
